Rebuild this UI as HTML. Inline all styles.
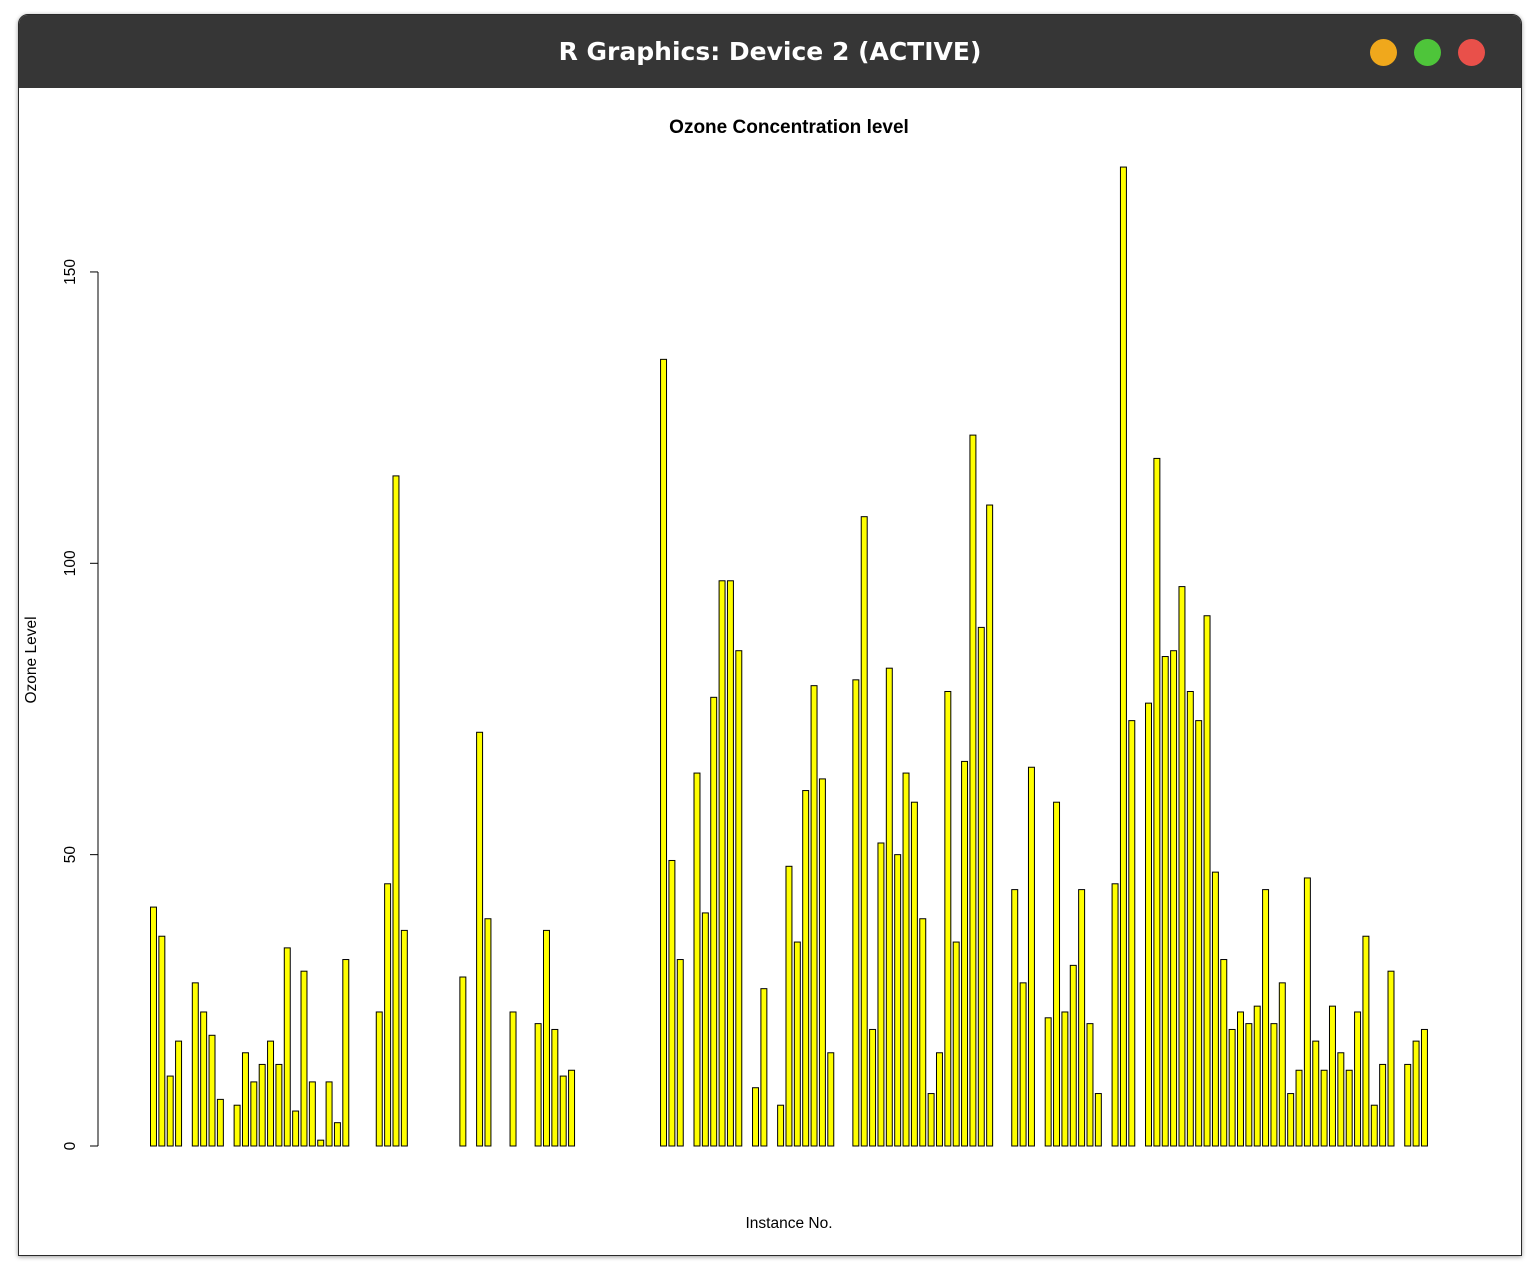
<!DOCTYPE html>
<html><head><meta charset="utf-8"><style>
body{margin:0;width:1540px;height:1274px;background:#fff;font-family:"Liberation Sans",sans-serif;overflow:hidden}
#win{position:absolute;left:18px;top:14px;width:1502px;height:1240px;border:1px solid #2a2a2a;border-radius:10px 10px 0 0;overflow:hidden;background:#fff;box-shadow:0 1px 4px rgba(0,0,0,.4)}
#bar{position:absolute;left:0;top:0;width:100%;height:73px;background:#363636;color:#fff;font:bold 25px "DejaVu Sans","Liberation Sans",sans-serif;text-align:center;line-height:74px}
.dot{position:absolute;top:24px;width:27px;height:27px;border-radius:50%}
svg{position:absolute;left:0;top:0}
</style></head><body>
<div id="win">
<div id="bar">R Graphics: Device 2 (ACTIVE)
<div class="dot" style="left:1351px;background:#f0a81c"></div>
<div class="dot" style="left:1395px;background:#4ec53a"></div>
<div class="dot" style="left:1439px;background:#e9504a"></div>
</div></div>
<svg id="chart" width="1540" height="1274"></svg>
<script>
const ozone=[41,36,12,18,null,28,23,19,8,null,7,16,11,14,18,14,34,6,30,11,1,11,4,32,null,null,null,23,45,115,37,null,null,null,null,null,null,29,null,71,39,null,null,23,null,null,21,37,20,12,13,null,null,null,null,null,null,null,null,null,null,135,49,32,null,64,40,77,97,97,85,null,10,27,null,7,48,35,61,79,63,16,null,null,80,108,20,52,82,50,64,59,39,9,16,78,35,66,122,89,110,null,null,44,28,65,null,22,59,23,31,44,21,9,null,45,168,73,null,76,118,84,85,96,78,73,91,47,32,20,23,21,24,44,21,28,9,13,46,18,13,24,16,13,23,36,7,14,30,null,14,18,20];
const yTicks=[0,50,100,150];
const NS="http://www.w3.org/2000/svg";
const svg=document.getElementById('chart');
const xs=v=>150+(v-0.2)*6.968;
const ys=v=>1146-v*5.827;
function mk(t,a){const e=document.createElementNS(NS,t);for(const k in a)e.setAttribute(k,a[k]);svg.appendChild(e);return e;}
ozone.forEach((v,i)=>{if(v===null)return;const l=xs(0.2+1.2*i),r=xs(1.2*(i+1));
const b=mk('rect',{x:l+0.5,y:ys(v),width:r-l-1,height:ys(0)-ys(v),fill:'#ffff00',stroke:'#000','stroke-width':1});

});
const ax=mk('line',{x1:98,x2:98,y1:ys(150),y2:ys(0),stroke:'#000'});


yTicks.forEach(t=>{const y=ys(t);mk('line',{x1:90,x2:98,y1:y,y2:y,stroke:'#000'});
const tx=mk('text',{x:75,y:y,'font-size':15.5,'text-anchor':'middle',transform:`rotate(-90 75 ${y})`});tx.textContent=t;

});
const ti=mk('text',{x:789,y:133,'font-size':19,'font-weight':'bold','text-anchor':'middle'});ti.textContent='Ozone Concentration level';


const xl=mk('text',{x:789,y:1228,'font-size':15.5,'text-anchor':'middle'});xl.textContent='Instance No.';


const yl=mk('text',{x:36,y:660,'font-size':15.5,'text-anchor':'middle',transform:'rotate(-90 36 660)'});yl.textContent='Ozone Level';


</script>
</body></html>
